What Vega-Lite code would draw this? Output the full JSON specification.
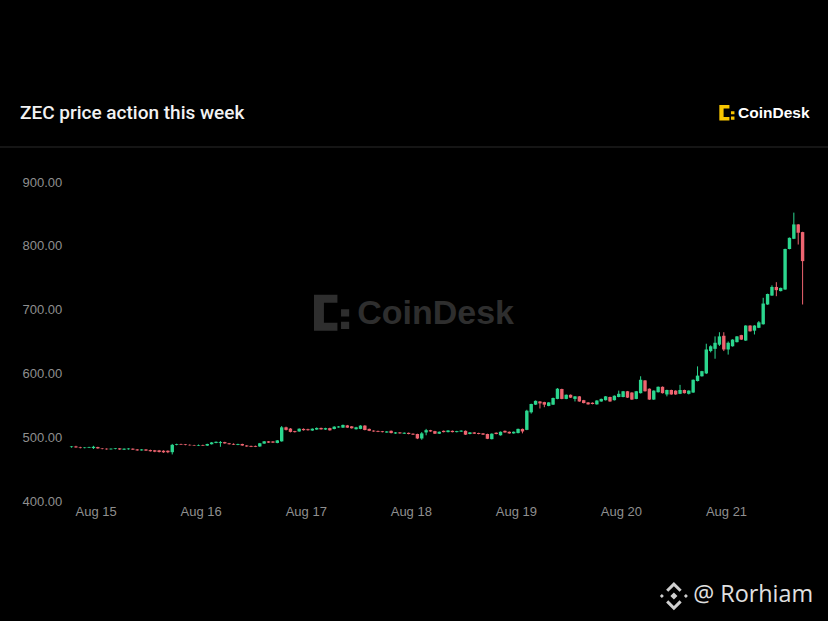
{
  "$schema": "https://vega.github.io/schema/vega-lite/v6.json",
  "description": "ZEC hourly candles, Aug 14-21, CoinDesk style.",
  "background": "#000000",
  "autosize": "none",
  "width": 750,
  "height": 319,
  "padding": {"left": 65, "top": 182, "right": 13, "bottom": 120},
  "title": {
    "text": "ZEC price action this week",
    "anchor": "start",
    "frame": "group",
    "dx": -45,
    "offset": 62,
    "dy": 89,
    "baseline": "middle",
    "color": "#f2f2f2",
    "font": "Roboto",
    "fontSize": 19,
    "fontWeight": 500
  },
  "config": {
    "view": {"stroke": null},
    "font": "Liberation Sans",
    "axisX": {
      "labelColor": "#8f8f8f", "labelFontSize": 13, "labelFont": "Liberation Sans",
      "ticks": false, "domain": false, "grid": false, "labelPadding": 4
    },
    "axisY": {
      "labelColor": "#8f8f8f", "labelFontSize": 13, "labelFont": "Liberation Sans",
      "ticks": false, "tickSize": 0, "domain": false, "grid": false,
      "labelAlign": "left", "labelPadding": 43
    }
  },
  "datasets": {
    "candles": [
      {"t":"2025-08-14T18:30:00Z","o":484.5,"h":486,"l":483.5,"c":485.5},
      {"t":"2025-08-14T19:30:00Z","o":485.5,"h":486.5,"l":483.5,"c":484},
      {"t":"2025-08-14T20:30:00Z","o":484,"h":485,"l":482.5,"c":483},
      {"t":"2025-08-14T21:30:00Z","o":483,"h":484.5,"l":482.5,"c":483.8},
      {"t":"2025-08-14T22:30:00Z","o":483.5,"h":485,"l":483,"c":484.5},
      {"t":"2025-08-14T23:30:00Z","o":483,"h":486.5,"l":481.5,"c":485},
      {"t":"2025-08-15T00:30:00Z","o":484.5,"h":485,"l":482,"c":482.5},
      {"t":"2025-08-15T01:30:00Z","o":482.5,"h":483,"l":481,"c":481.8},
      {"t":"2025-08-15T02:30:00Z","o":482,"h":482.5,"l":480.5,"c":481},
      {"t":"2025-08-15T03:30:00Z","o":481,"h":482.5,"l":480.5,"c":482},
      {"t":"2025-08-15T04:30:00Z","o":481.5,"h":483,"l":481,"c":482.5},
      {"t":"2025-08-15T05:30:00Z","o":482.5,"h":483,"l":480,"c":480.8},
      {"t":"2025-08-15T06:30:00Z","o":480.5,"h":482.5,"l":480,"c":482},
      {"t":"2025-08-15T07:30:00Z","o":481,"h":482.8,"l":480.5,"c":482.3},
      {"t":"2025-08-15T08:30:00Z","o":482,"h":482.5,"l":480,"c":480.5},
      {"t":"2025-08-15T09:30:00Z","o":480.8,"h":481.5,"l":478.8,"c":479.3},
      {"t":"2025-08-15T10:30:00Z","o":479.3,"h":481.3,"l":479,"c":480.8},
      {"t":"2025-08-15T11:30:00Z","o":480.8,"h":481.2,"l":478.5,"c":479},
      {"t":"2025-08-15T12:30:00Z","o":479.8,"h":480.5,"l":477.5,"c":478},
      {"t":"2025-08-15T13:30:00Z","o":479.5,"h":480,"l":476.5,"c":477.3},
      {"t":"2025-08-15T14:30:00Z","o":479.3,"h":480,"l":476,"c":476.8},
      {"t":"2025-08-15T15:30:00Z","o":478.8,"h":479.5,"l":475.5,"c":476.3},
      {"t":"2025-08-15T16:30:00Z","o":478.8,"h":479.3,"l":475,"c":476.5},
      {"t":"2025-08-15T17:30:00Z","o":476.5,"h":489.5,"l":473,"c":488},
      {"t":"2025-08-15T18:30:00Z","o":488,"h":489.8,"l":487.3,"c":489.2},
      {"t":"2025-08-15T19:30:00Z","o":489.2,"h":489.8,"l":487.8,"c":488.3},
      {"t":"2025-08-15T20:30:00Z","o":488.8,"h":489.3,"l":487.3,"c":487.8},
      {"t":"2025-08-15T21:30:00Z","o":488,"h":488.8,"l":486.8,"c":487.3},
      {"t":"2025-08-15T22:30:00Z","o":487.5,"h":488,"l":486.3,"c":486.8},
      {"t":"2025-08-15T23:30:00Z","o":486.8,"h":488.5,"l":486.3,"c":487.8},
      {"t":"2025-08-16T00:30:00Z","o":487.8,"h":488.3,"l":486.3,"c":486.8},
      {"t":"2025-08-16T01:30:00Z","o":486.8,"h":489.8,"l":486.3,"c":489.3},
      {"t":"2025-08-16T02:30:00Z","o":489,"h":492.5,"l":488.5,"c":491.8},
      {"t":"2025-08-16T03:30:00Z","o":491,"h":493.3,"l":490.5,"c":492.8},
      {"t":"2025-08-16T04:30:00Z","o":490.8,"h":494,"l":485,"c":492.3},
      {"t":"2025-08-16T05:30:00Z","o":492.3,"h":492.8,"l":489.8,"c":490.3},
      {"t":"2025-08-16T06:30:00Z","o":490.5,"h":491,"l":488.5,"c":489},
      {"t":"2025-08-16T07:30:00Z","o":489.5,"h":490.3,"l":487.8,"c":488.3},
      {"t":"2025-08-16T08:30:00Z","o":488,"h":489.8,"l":487.5,"c":489.3},
      {"t":"2025-08-16T09:30:00Z","o":489.3,"h":489.8,"l":486.5,"c":487},
      {"t":"2025-08-16T10:30:00Z","o":487,"h":487.5,"l":485,"c":485.5},
      {"t":"2025-08-16T11:30:00Z","o":486.3,"h":486.8,"l":484.5,"c":485},
      {"t":"2025-08-16T12:30:00Z","o":486.3,"h":486.8,"l":484.5,"c":485},
      {"t":"2025-08-16T13:30:00Z","o":485.5,"h":491,"l":485,"c":490.5},
      {"t":"2025-08-16T14:30:00Z","o":490,"h":494,"l":489.5,"c":493.5},
      {"t":"2025-08-16T15:30:00Z","o":493.5,"h":494,"l":491,"c":491.5},
      {"t":"2025-08-16T16:30:00Z","o":493.3,"h":493.8,"l":491,"c":491.5},
      {"t":"2025-08-16T17:30:00Z","o":491,"h":495.5,"l":490.5,"c":495},
      {"t":"2025-08-16T18:30:00Z","o":493.5,"h":517.5,"l":493,"c":515.5},
      {"t":"2025-08-16T19:30:00Z","o":515.5,"h":516.5,"l":510.5,"c":511.5},
      {"t":"2025-08-16T20:30:00Z","o":513.5,"h":514.3,"l":507.5,"c":508.3},
      {"t":"2025-08-16T21:30:00Z","o":509.5,"h":510,"l":507.3,"c":508},
      {"t":"2025-08-16T22:30:00Z","o":509,"h":513.8,"l":508.5,"c":513.3},
      {"t":"2025-08-16T23:30:00Z","o":513,"h":513.8,"l":510.3,"c":511},
      {"t":"2025-08-17T00:30:00Z","o":512.5,"h":513.3,"l":510.3,"c":511},
      {"t":"2025-08-17T01:30:00Z","o":510.5,"h":513.8,"l":510,"c":513.3},
      {"t":"2025-08-17T02:30:00Z","o":512,"h":515.3,"l":511.5,"c":514.5},
      {"t":"2025-08-17T03:30:00Z","o":514.5,"h":515,"l":511.8,"c":512.3},
      {"t":"2025-08-17T04:30:00Z","o":512,"h":514.8,"l":511.5,"c":514.2},
      {"t":"2025-08-17T05:30:00Z","o":514.2,"h":514.8,"l":510.3,"c":510.8},
      {"t":"2025-08-17T06:30:00Z","o":512.8,"h":517.3,"l":512.3,"c":516.5},
      {"t":"2025-08-17T07:30:00Z","o":515.3,"h":517.5,"l":514.8,"c":516.8},
      {"t":"2025-08-17T08:30:00Z","o":515,"h":519.8,"l":514.5,"c":519.2},
      {"t":"2025-08-17T09:30:00Z","o":518.5,"h":519.2,"l":514.5,"c":515},
      {"t":"2025-08-17T10:30:00Z","o":517,"h":517.5,"l":513.5,"c":514},
      {"t":"2025-08-17T11:30:00Z","o":512.5,"h":516.3,"l":512,"c":515.5},
      {"t":"2025-08-17T12:30:00Z","o":513,"h":518.8,"l":512.5,"c":518.2},
      {"t":"2025-08-17T13:30:00Z","o":518.2,"h":518.8,"l":510.8,"c":511.3},
      {"t":"2025-08-17T14:30:00Z","o":513,"h":513.5,"l":509.5,"c":510},
      {"t":"2025-08-17T15:30:00Z","o":510.3,"h":510.8,"l":508.5,"c":509},
      {"t":"2025-08-17T16:30:00Z","o":509.8,"h":510.3,"l":508,"c":508.5},
      {"t":"2025-08-17T17:30:00Z","o":509.3,"h":509.8,"l":507.5,"c":508},
      {"t":"2025-08-17T18:30:00Z","o":507.3,"h":509.5,"l":507,"c":509},
      {"t":"2025-08-17T19:30:00Z","o":510,"h":510.5,"l":506,"c":506.5},
      {"t":"2025-08-17T20:30:00Z","o":505.8,"h":508,"l":505.3,"c":507.5},
      {"t":"2025-08-17T21:30:00Z","o":507.5,"h":508,"l":505.5,"c":506},
      {"t":"2025-08-17T22:30:00Z","o":505.5,"h":507.5,"l":505,"c":507},
      {"t":"2025-08-17T23:30:00Z","o":506.8,"h":507.3,"l":504.5,"c":505},
      {"t":"2025-08-18T00:30:00Z","o":505.5,"h":506,"l":503.5,"c":504},
      {"t":"2025-08-18T01:30:00Z","o":505,"h":505.5,"l":497,"c":498},
      {"t":"2025-08-18T02:30:00Z","o":498,"h":508,"l":496,"c":506},
      {"t":"2025-08-18T03:30:00Z","o":507.5,"h":513,"l":503,"c":511},
      {"t":"2025-08-18T04:30:00Z","o":511,"h":511.5,"l":508.5,"c":509},
      {"t":"2025-08-18T05:30:00Z","o":509.5,"h":510,"l":505,"c":505.5},
      {"t":"2025-08-18T06:30:00Z","o":505.5,"h":509,"l":505,"c":508.5},
      {"t":"2025-08-18T07:30:00Z","o":510,"h":510.5,"l":507.5,"c":508},
      {"t":"2025-08-18T08:30:00Z","o":508,"h":511,"l":507.5,"c":510.5},
      {"t":"2025-08-18T09:30:00Z","o":510,"h":510.5,"l":507.5,"c":508},
      {"t":"2025-08-18T10:30:00Z","o":508,"h":510,"l":507.5,"c":509.5},
      {"t":"2025-08-18T11:30:00Z","o":508.8,"h":510.8,"l":508.3,"c":510.3},
      {"t":"2025-08-18T12:30:00Z","o":510,"h":510.5,"l":503.5,"c":504},
      {"t":"2025-08-18T13:30:00Z","o":505,"h":508,"l":504.5,"c":507.5},
      {"t":"2025-08-18T14:30:00Z","o":507.5,"h":508,"l":505,"c":505.5},
      {"t":"2025-08-18T15:30:00Z","o":506.5,"h":507,"l":504.5,"c":505},
      {"t":"2025-08-18T16:30:00Z","o":506,"h":506.5,"l":503.5,"c":504},
      {"t":"2025-08-18T17:30:00Z","o":505,"h":505.5,"l":497,"c":497.5},
      {"t":"2025-08-18T18:30:00Z","o":497,"h":506,"l":496.5,"c":505.5},
      {"t":"2025-08-18T19:30:00Z","o":507,"h":507.5,"l":504.5,"c":505},
      {"t":"2025-08-18T20:30:00Z","o":503,"h":509,"l":502.5,"c":508.5},
      {"t":"2025-08-18T21:30:00Z","o":510,"h":510.5,"l":507,"c":507.5},
      {"t":"2025-08-18T22:30:00Z","o":508.5,"h":509,"l":505.5,"c":506},
      {"t":"2025-08-18T23:30:00Z","o":506,"h":509,"l":505.5,"c":508.5},
      {"t":"2025-08-19T00:30:00Z","o":506.5,"h":513.5,"l":506,"c":513},
      {"t":"2025-08-19T01:30:00Z","o":513,"h":513.5,"l":506,"c":509},
      {"t":"2025-08-19T02:30:00Z","o":511.5,"h":543,"l":511,"c":541.5},
      {"t":"2025-08-19T03:30:00Z","o":539,"h":552.5,"l":537,"c":552},
      {"t":"2025-08-19T04:30:00Z","o":551,"h":557.5,"l":550.5,"c":557},
      {"t":"2025-08-19T05:30:00Z","o":556,"h":556.5,"l":545,"c":553},
      {"t":"2025-08-19T06:30:00Z","o":555,"h":555.5,"l":547,"c":551},
      {"t":"2025-08-19T07:30:00Z","o":549,"h":555,"l":548.5,"c":554.5},
      {"t":"2025-08-19T08:30:00Z","o":551,"h":562,"l":550.5,"c":561.5},
      {"t":"2025-08-19T09:30:00Z","o":560,"h":577,"l":559.5,"c":576},
      {"t":"2025-08-19T10:30:00Z","o":575.5,"h":576,"l":559.5,"c":560},
      {"t":"2025-08-19T11:30:00Z","o":560,"h":567,"l":559.5,"c":566.5},
      {"t":"2025-08-19T12:30:00Z","o":566.5,"h":567,"l":561.5,"c":562},
      {"t":"2025-08-19T13:30:00Z","o":560,"h":564.5,"l":556,"c":564},
      {"t":"2025-08-19T14:30:00Z","o":564,"h":564.5,"l":555.5,"c":556},
      {"t":"2025-08-19T15:30:00Z","o":558,"h":558.5,"l":553,"c":553.5},
      {"t":"2025-08-19T16:30:00Z","o":554.5,"h":555,"l":551,"c":551.5},
      {"t":"2025-08-19T17:30:00Z","o":554,"h":554.5,"l":551.5,"c":552},
      {"t":"2025-08-19T18:30:00Z","o":551.5,"h":558,"l":551,"c":557.5},
      {"t":"2025-08-19T19:30:00Z","o":556,"h":560.5,"l":555.5,"c":560},
      {"t":"2025-08-19T20:30:00Z","o":558,"h":564.5,"l":557.5,"c":564},
      {"t":"2025-08-19T21:30:00Z","o":563,"h":563.5,"l":555.5,"c":556},
      {"t":"2025-08-19T22:30:00Z","o":558,"h":565.5,"l":557.5,"c":565},
      {"t":"2025-08-19T23:30:00Z","o":563,"h":573,"l":562.5,"c":568},
      {"t":"2025-08-20T00:30:00Z","o":563,"h":572.5,"l":562.5,"c":572},
      {"t":"2025-08-20T01:30:00Z","o":572,"h":572.5,"l":561.5,"c":562},
      {"t":"2025-08-20T02:30:00Z","o":570,"h":570.5,"l":558.5,"c":559},
      {"t":"2025-08-20T03:30:00Z","o":560,"h":572.5,"l":559.5,"c":572},
      {"t":"2025-08-20T04:30:00Z","o":569,"h":595.5,"l":568.5,"c":590},
      {"t":"2025-08-20T05:30:00Z","o":589,"h":589.5,"l":571.5,"c":572},
      {"t":"2025-08-20T06:30:00Z","o":576,"h":576.5,"l":558.5,"c":559},
      {"t":"2025-08-20T07:30:00Z","o":559,"h":573.5,"l":558.5,"c":573},
      {"t":"2025-08-20T08:30:00Z","o":570.5,"h":579.5,"l":570,"c":579},
      {"t":"2025-08-20T09:30:00Z","o":579,"h":579.5,"l":568.5,"c":569},
      {"t":"2025-08-20T10:30:00Z","o":567,"h":574.5,"l":564,"c":574},
      {"t":"2025-08-20T11:30:00Z","o":574,"h":574.5,"l":566.5,"c":567},
      {"t":"2025-08-20T12:30:00Z","o":573,"h":573.5,"l":566.5,"c":567},
      {"t":"2025-08-20T13:30:00Z","o":568,"h":582,"l":567.5,"c":574},
      {"t":"2025-08-20T14:30:00Z","o":574,"h":574.5,"l":568.5,"c":569},
      {"t":"2025-08-20T15:30:00Z","o":568,"h":573.5,"l":567,"c":573},
      {"t":"2025-08-20T16:30:00Z","o":570,"h":590.5,"l":569.5,"c":590},
      {"t":"2025-08-20T17:30:00Z","o":588,"h":611,"l":587.5,"c":596.5},
      {"t":"2025-08-20T18:30:00Z","o":595.5,"h":604,"l":595,"c":603.5},
      {"t":"2025-08-20T19:30:00Z","o":600,"h":646.5,"l":599,"c":637.5},
      {"t":"2025-08-20T20:30:00Z","o":635,"h":644,"l":633,"c":642.5},
      {"t":"2025-08-20T21:30:00Z","o":638.5,"h":658,"l":623,"c":648},
      {"t":"2025-08-20T22:30:00Z","o":645,"h":664.5,"l":643,"c":658},
      {"t":"2025-08-20T23:30:00Z","o":659,"h":664.5,"l":635,"c":637.5},
      {"t":"2025-08-21T00:30:00Z","o":637.5,"h":650,"l":629.5,"c":648},
      {"t":"2025-08-21T01:30:00Z","o":642.5,"h":653.5,"l":642,"c":653},
      {"t":"2025-08-21T02:30:00Z","o":649,"h":658.5,"l":648.5,"c":658},
      {"t":"2025-08-21T03:30:00Z","o":660,"h":660.5,"l":652.5,"c":653},
      {"t":"2025-08-21T04:30:00Z","o":651.5,"h":675.5,"l":651,"c":675},
      {"t":"2025-08-21T05:30:00Z","o":675,"h":675.5,"l":665.5,"c":666},
      {"t":"2025-08-21T06:30:00Z","o":667,"h":675.5,"l":661,"c":675},
      {"t":"2025-08-21T07:30:00Z","o":671.5,"h":682,"l":671,"c":680},
      {"t":"2025-08-21T08:30:00Z","o":677,"h":718.5,"l":676.5,"c":709.5},
      {"t":"2025-08-21T09:30:00Z","o":708,"h":725,"l":707.5,"c":724.5},
      {"t":"2025-08-21T10:30:00Z","o":722,"h":738,"l":721.5,"c":735.5},
      {"t":"2025-08-21T11:30:00Z","o":735.5,"h":743,"l":721,"c":730.5},
      {"t":"2025-08-21T12:30:00Z","o":729,"h":734.5,"l":728.5,"c":734},
      {"t":"2025-08-21T13:30:00Z","o":731.5,"h":795.5,"l":731,"c":795},
      {"t":"2025-08-21T14:30:00Z","o":795,"h":813,"l":794.5,"c":812.5},
      {"t":"2025-08-21T15:30:00Z","o":811,"h":852,"l":810.5,"c":833.5},
      {"t":"2025-08-21T16:30:00Z","o":833.5,"h":834,"l":802,"c":820.5},
      {"t":"2025-08-21T17:30:00Z","o":821.5,"h":822,"l":708,"c":776}
    ]
  },
  "layer": [
    {
      "data": {"name": "candles"},
      "mark": {"type": "rule", "strokeWidth": 1},
      "encoding": {
        "x": {"field": "t", "type": "temporal",
              "scale": {"type": "utc", "padding": 0, "domain": [{"year": 2025, "month": 8, "date": 14, "hours": 17, "utc": true}, {"year": 2025, "month": 8, "date": 21, "hours": 20, "minutes": 20, "utc": true}]},
              "axis": {"title": null, "format": "%b %d", "values": [
                {"year": 2025, "month": 8, "date": 15, "utc": true},
                {"year": 2025, "month": 8, "date": 16, "utc": true},
                {"year": 2025, "month": 8, "date": 17, "utc": true},
                {"year": 2025, "month": 8, "date": 18, "utc": true},
                {"year": 2025, "month": 8, "date": 19, "utc": true},
                {"year": 2025, "month": 8, "date": 20, "utc": true},
                {"year": 2025, "month": 8, "date": 21, "utc": true}
              ]}},
        "y": {"field": "l", "type": "quantitative",
              "scale": {"domain": [400, 900], "nice": false, "zero": false},
              "axis": {"title": null, "values": [400, 500, 600, 700, 800, 900], "format": ".2f"}},
        "y2": {"field": "h"},
        "color": {"condition": {"test": "datum.c >= datum.o", "value": "#2bd68e"}, "value": "#ee6470"}
      }
    },
    {
      "data": {"name": "candles"},
      "mark": {"type": "bar", "width": 3.4},
      "encoding": {
        "x": {"field": "t", "type": "temporal", "axis": {"title": null}},
        "y": {"field": "o", "type": "quantitative", "axis": {"title": null}},
        "y2": {"field": "c"},
        "color": {"condition": {"test": "datum.c >= datum.o", "value": "#2bd68e"}, "value": "#ee6470"}
      }
    },
    {
      "data": {"values": [{"label": "CoinDesk"}]},
      "mark": {"type": "point", "filled": true, "color": "#2e2e2e", "opacity": 1, "strokeWidth": 0, "zindex": -1,
               "shape": "M-1,-1H0.3V-0.55H-0.45V0.55H0.3V1H-1Z M0.5,-0.2H0.95V0.2H0.5Z M0.5,0.5H0.95V0.9H0.5Z"},
      "encoding": {
        "x": {"datum": {"year": 2025, "month": 8, "date": 17, "hours": 6, "utc": true}, "type": "temporal", "axis": {"title": null}},
        "y": {"datum": 695, "type": "quantitative", "axis": {"title": null}},
        "size": {"value": 1300}
      }
    },
    {
      "data": {"values": [{"label": "CoinDesk"}]},
      "mark": {"type": "text", "align": "left", "baseline": "middle", "color": "#2e2e2e", "font": "Liberation Sans", "fontSize": 34, "fontWeight": "bold", "zindex": -1},
      "encoding": {
        "x": {"datum": {"year": 2025, "month": 8, "date": 17, "hours": 11, "minutes": 45, "utc": true}, "type": "temporal", "axis": {"title": null}},
        "y": {"datum": 693.5, "type": "quantitative", "axis": {"title": null}},
        "text": {"field": "label"}
      }
    },
    {
      "data": {"values": [{"label": "separator"}]},
      "mark": {"type": "rule", "color": "#1c1c1c", "strokeWidth": 1.5},
      "encoding": {
        "x": {"datum": {"year": 2025, "month": 8, "date": 14, "hours": 1, "utc": true}, "type": "temporal", "axis": {"title": null}},
        "x2": {"datum": {"year": 2025, "month": 8, "date": 22, "hours": 0, "utc": true}},
        "y": {"datum": 955, "type": "quantitative", "axis": {"title": null}}
      }
    },
    {
      "data": {"values": [{"label": "CoinDesk"}]},
      "mark": {"type": "point", "filled": true, "color": "#f7c600", "opacity": 1, "strokeWidth": 0,
               "shape": "M-1,-1H0.3V-0.55H-0.45V0.55H0.3V1H-1Z M0.5,-0.2H0.95V0.2H0.5Z M0.5,0.5H0.95V0.9H0.5Z"},
      "encoding": {
        "x": {"datum": {"year": 2025, "month": 8, "date": 21, "hours": 0, "minutes": 15, "utc": true}, "type": "temporal", "axis": {"title": null}},
        "y": {"datum": 1008.6, "type": "quantitative", "axis": {"title": null}},
        "size": {"value": 240}
      }
    },
    {
      "data": {"values": [{"label": "CoinDesk"}]},
      "mark": {"type": "text", "align": "left", "baseline": "middle", "color": "#ffffff", "font": "Liberation Sans", "fontSize": 15.5, "fontWeight": "bold"},
      "encoding": {
        "x": {"datum": {"year": 2025, "month": 8, "date": 21, "hours": 2, "minutes": 45, "utc": true}, "type": "temporal", "axis": {"title": null}},
        "y": {"datum": 1008.6, "type": "quantitative", "axis": {"title": null}},
        "text": {"field": "label"}
      }
    },
    {
      "data": {"values": [{"label": "@ Rorhiam"}]},
      "mark": {"type": "point", "filled": true, "color": "#d0d0d0", "opacity": 1, "strokeWidth": 0,
               "shape": "M0,-0.25L0.25,0L0,0.25L-0.25,0Z M-0.85,-0.14L-0.71,0L-0.85,0.14L-0.99,0Z M0.85,-0.14L0.99,0L0.85,0.14L0.71,0Z M0,-1L0.55,-0.45L0.4,-0.3L0,-0.7L-0.4,-0.3L-0.55,-0.45Z M0,1L0.55,0.45L0.4,0.3L0,0.7L-0.4,0.3L-0.55,0.45Z"},
      "encoding": {
        "x": {"datum": {"year": 2025, "month": 8, "date": 20, "hours": 12, "minutes": 6, "utc": true}, "type": "temporal", "axis": {"title": null}},
        "y": {"datum": 251, "type": "quantitative", "axis": {"title": null}},
        "size": {"value": 800}
      }
    },
    {
      "data": {"values": [{"label": "@ Rorhiam"}]},
      "mark": {"type": "text", "align": "left", "baseline": "middle", "color": "#e0e0e0", "font": "Open Sans", "fontSize": 23.4},
      "encoding": {
        "x": {"datum": {"year": 2025, "month": 8, "date": 20, "hours": 16, "minutes": 30, "utc": true}, "type": "temporal", "axis": {"title": null}},
        "y": {"datum": 253, "type": "quantitative", "axis": {"title": null}},
        "text": {"field": "label"}
      }
    }
  ]
}
